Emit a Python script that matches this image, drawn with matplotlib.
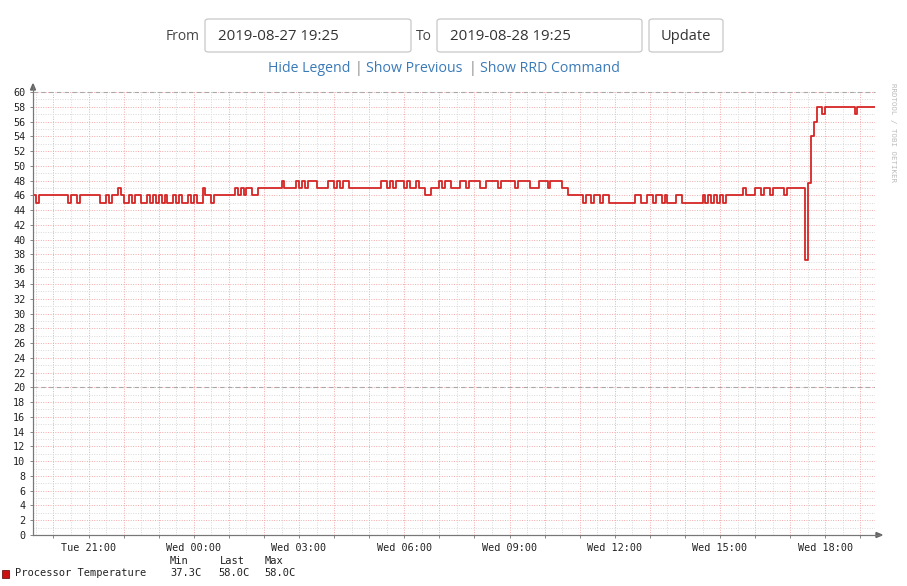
import datetime as dt
import numpy as np
import matplotlib.pyplot as plt
import matplotlib.dates as mdates
from matplotlib.patches import FancyBboxPatch, Rectangle, Polygon

# run-length encoded 5-minute samples (value, count)
run_values = [46, 45, 46, 45, 46, 45, 46,
              45, 46, 45, 46, 47, 46,
              45, 46, 45, 46, 45, 46, 45, 46, 45, 46, 45, 46, 45, 46, 45, 46, 45, 46, 45, 46, 45,
              47, 46, 45, 46, 47, 46, 47, 46, 47, 46,
              47, 48, 47, 48, 47, 48, 47, 48, 47, 48, 47, 48, 47, 48, 47,
              48, 47, 48, 47, 48, 47, 48, 47, 48, 47, 46, 47,
              48, 47, 48, 47, 48, 47, 48, 47, 48, 47, 48, 47, 48, 47, 48, 47, 48, 47,
              46, 45, 46, 45, 46, 45, 46, 45, 46, 45, 46, 45, 46, 45, 46, 45, 46, 45,
              46, 45, 46, 45, 46, 45, 46, 45, 46,
              47, 46, 47, 46, 47, 46, 47, 46, 47,
              37.3, 47.7, 54, 56, 58, 57, 58, 57, 58]
run_counts = [1, 1, 10, 1, 2, 1, 7,
              2, 1, 1, 2, 1, 1,
              2, 1, 1, 2, 2, 1, 1, 1, 1, 1, 1, 1, 2, 1, 1, 1, 2, 1, 1, 1, 2,
              1, 2, 1, 7, 1, 1, 1, 1, 2, 2,
              8, 1, 4, 1, 1, 1, 1, 3, 4, 2, 1, 1, 1, 2, 11,
              2, 1, 1, 1, 3, 1, 1, 2, 1, 2, 2, 3,
              1, 1, 2, 3, 2, 1, 4, 2, 4, 1, 5, 1, 4, 3, 3, 1, 4, 2,
              5, 1, 2, 1, 2, 1, 2, 9, 2, 2, 2, 1, 2, 1, 1, 3, 2, 7,
              1, 1, 1, 1, 1, 1, 1, 1, 6,
              1, 3, 2, 1, 2, 1, 4, 1, 6,
              1, 1, 1, 1, 2, 1, 10, 1, 6]

start = dt.datetime(2019, 8, 27, 19, 25)
end = dt.datetime(2019, 8, 28, 19, 25)
legend_name = "Processor Temperature"
stat_heads = ["Min", "Last", "Max"]
stat_vals = ["37.3C", "58.0C", "58.0C"]

temps = np.repeat(run_values, run_counts)
times = [start + dt.timedelta(minutes=5 * i) for i in range(len(temps) + 1)]
temps = np.append(temps, temps[-1])

W, H = 907, 586
fig = plt.figure(figsize=(W / 100, H / 100), dpi=100)
fig.patch.set_facecolor("white")


def fx(x):
    return x / W


def fy(y):
    return 1 - y / H


# ---- web page controls ----
web = ["Open Sans", "DejaVu Sans"]
fig.text(fx(183), fy(36), "From", family=web, fontsize=10, color="#444444", ha="center", va="center")
fig.text(fx(424), fy(36), "To", family=web, fontsize=10, color="#444444", ha="center", va="center")
for x0, x1, label, left in [(205, 411, "2019-08-27 19:25", True),
                            (437, 642, "2019-08-28 19:25", True),
                            (649, 723, "Update", False)]:
    box = FancyBboxPatch((fx(x0), fy(52)), fx(x1 - x0), 33 / H,
                         boxstyle="round,pad=0,rounding_size=0.004",
                         transform=fig.transFigure, facecolor="white",
                         edgecolor="#c8c8c8", linewidth=0.9)
    fig.add_artist(box)
    if left:
        fig.text(fx(x0 + 13), fy(37), label, family=web, fontsize=10.8, color="#333333", va="center")
    else:
        fig.text(fx((x0 + x1) / 2), fy(36), label, family=web, fontsize=10.5, color="#333333",
                 ha="center", va="center")

links = [("Hide Legend", 268), ("Show Previous", 366), ("Show RRD Command", 480)]
for txt, x in links:
    fig.text(fx(x), fy(68), txt, family=web, fontsize=10.2, color="#3a7ab8", va="center")
for x in [358, 472]:
    fig.text(fx(x), fy(68), "|", family=web, fontsize=10.2, color="#888888", ha="center", va="center")

# ---- rrd graph ----
ax = fig.add_axes([fx(33), fy(535), fx(842), 443 / H])
ax.plot(times, temps, drawstyle="steps-post", color="#d62626", linewidth=1.3, zorder=5)
ax.axhline(20, color="#a8a8a8", linestyle=(0, (4, 3)), linewidth=0.8, zorder=4)
ax.axhline(60, color="#a8a8a8", linestyle=(0, (4, 3)), linewidth=0.8, zorder=4, clip_on=False)

ax.set_xlim(start, end)
ax.set_ylim(0, 60)
ax.set_yticks(range(0, 61, 2))
ax.set_yticks(range(0, 61, 1), minor=True)
ax.xaxis.set_major_locator(mdates.HourLocator(interval=1))
ax.xaxis.set_minor_locator(mdates.MinuteLocator(byminute=[30]))


def hour_fmt(v, pos):
    d = mdates.num2date(v)
    return d.strftime("%a %H:%M") if d.hour % 3 == 0 else ""


ax.xaxis.set_major_formatter(plt.FuncFormatter(hour_fmt))

ax.grid(which="minor", color="#d9d9d9", linestyle=(0, (1, 1.5)), linewidth=0.7)
ax.grid(which="major", color="#f4a9a9", linestyle=(0, (1, 1.5)), linewidth=0.7)
ax.set_axisbelow(True)

mono = ["DejaVu Sans Mono"]
ax.tick_params(axis="both", which="major", direction="out", length=2.5, width=0.7,
               color="#888888", labelsize=7.3, labelcolor="#222222", pad=3)
ax.tick_params(axis="both", which="minor", length=0)
for lab in ax.get_xticklabels() + ax.get_yticklabels():
    lab.set_family(mono)

for s in ["top", "right"]:
    ax.spines[s].set_visible(False)
for s in ["left", "bottom"]:
    ax.spines[s].set_color("#777777")
    ax.spines[s].set_linewidth(0.8)

# axis extensions and arrows
fig.add_artist(plt.Line2D([fx(33), fx(33)], [fy(535), fy(86)], color="#777777", lw=0.8))
fig.add_artist(plt.Line2D([fx(33), fx(880)], [fy(535), fy(535)], color="#777777", lw=0.8))
fig.add_artist(Polygon([[fx(30.5), fy(90)], [fx(35.5), fy(90)], [fx(33), fy(84)]],
                       closed=True, transform=fig.transFigure, color="#666666"))
fig.add_artist(Polygon([[fx(876), fy(532.5)], [fx(876), fy(537.5)], [fx(882), fy(535)]],
                       closed=True, transform=fig.transFigure, color="#666666"))

fig.text(fx(893), fy(83), "RRDTOOL / TOBI OETIKER", family=mono, fontsize=5.3, color="#bbbbbb",
         rotation=-90, ha="center", va="top")

# legend
fig.add_artist(Rectangle((fx(2), fy(578)), fx(7), 8 / H, transform=fig.transFigure,
                         facecolor="#cc1111", edgecolor="#550000", linewidth=0.5))
fig.text(fx(15), fy(573), legend_name, family=mono, fontsize=7.5, color="#222222", va="center")
for head, x in zip(stat_heads, [170, 220, 265]):
    fig.text(fx(x), fy(561), head, family=mono, fontsize=7.5, color="#222222", va="center")
for val, x in zip(stat_vals, [170, 218, 264]):
    fig.text(fx(x), fy(573), val, family=mono, fontsize=7.5, color="#222222", va="center")

fig.savefig("out.png", dpi=100)
